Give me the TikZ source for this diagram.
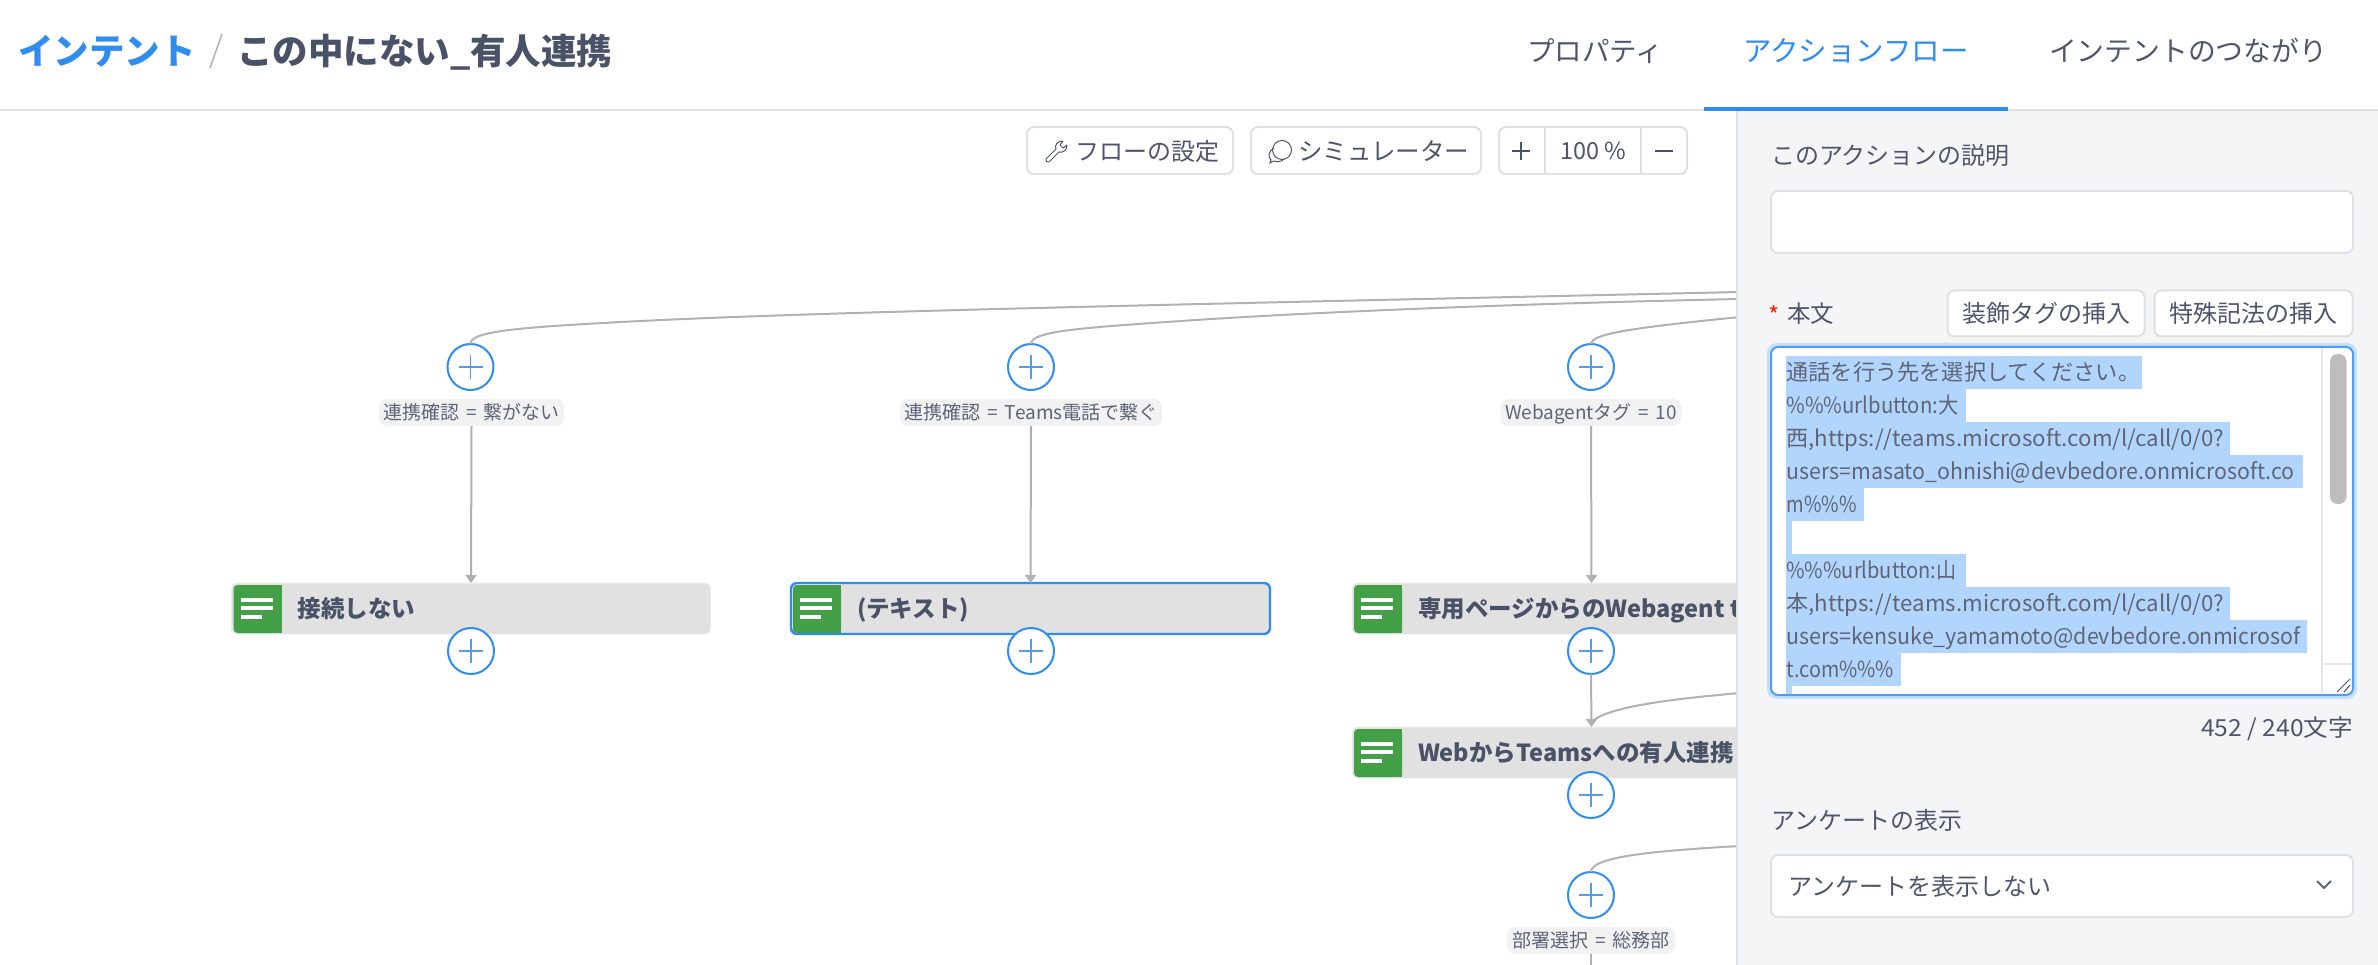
\documentclass[tikz,border=0pt]{standalone}
\usepackage{fontspec}
\usepackage{graphicx}
\setmainfont{Noto Sans CJK JP}
\usetikzlibrary{arrows.meta}
\definecolor{ink}{HTML}{4F566B}
\definecolor{inkd}{HTML}{4A5268}
\definecolor{inkl}{HTML}{5E6576}
\definecolor{blu}{HTML}{2F8CF0}
\definecolor{bluel}{HTML}{4E9DF5}
\definecolor{bdr}{HTML}{DFE0E4}
\definecolor{panelbg}{HTML}{F4F5F7}
\definecolor{edge}{HTML}{B0B0B5}
\definecolor{grn}{HTML}{43A047}
\definecolor{nodebg}{HTML}{E1E1E1}
\definecolor{sel}{HTML}{B2D5FE}
\definecolor{glow}{HTML}{C6E0FB}
\definecolor{chip}{HTML}{F2F2F3}
\tikzset{
  txt/.style={font=\fontsize{#1}{#1}\selectfont, text height={0.88*#1}, text depth={0.12*#1}, inner sep=0pt, outer sep=0pt, text=ink},
  btxt/.style={font=\fontsize{#1}{#1}\selectfont\bfseries, text height={0.88*#1}, text depth={0.12*#1}, inner sep=0pt, outer sep=0pt, text=inkd},
  linetxt/.style={txt=22.2, anchor=west, text=inkl},
  uibox/.style={draw=bdr, line width=2pt, rounded corners=7pt},
  plusc/.style={circle, draw=blu, line width=2pt, fill=white, minimum size=46pt, inner sep=0pt, outer sep=0pt},
  plusm/.style={draw=bluel, line width=1.6pt},
  chiplab/.style={fill=chip, rounded corners=8pt, minimum height=27pt, txt=19, text=inkl, outer sep=0pt},
  actbox/.style={fill=nodebg, rounded corners=6pt, minimum width=479pt, minimum height=51pt, inner sep=0pt, outer sep=0pt, anchor=north west},
  conn/.style={draw=edge, line width=2pt},
  arrowc/.style={conn, -{Triangle[length=8pt,width=11pt]}},
  selbar/.style={fill=sel},
}
\newcommand\plusnode[3]{%
  \node[plusc] (#1) at (#2,#3) {};
  \draw[plusm] ({#2-12},#3) -- ({#2+12},#3);
  \draw[plusm] (#2,{#3-12}) -- (#2,{#3+12});
}
\newcommand\actnode[5]{%
  \node[actbox, #5] (#1) at (#2,#3) {};
  \fill[grn, rounded corners=4pt] ({#2+2},{#3+2}) rectangle ({#2+50},{#3+50});
  \fill[grn] ({#2+20},{#3+2}) rectangle ({#2+50},{#3+50});
  \fill[white] ({#2+9},{#3+15}) rectangle ({#2+41},{#3+18.5});
  \fill[white] ({#2+9},{#3+23}) rectangle ({#2+41},{#3+26.5});
  \fill[white] ({#2+9},{#3+32}) rectangle ({#2+30},{#3+35.5});
  \node[btxt=23.5, anchor=west] (#1t) at ({#2+66},{#3+26}) {#4};
}
\newcommand\selline[3]{\fill[selbar] (1786,#1) rectangle (#2,{#1+33});
  \node[linetxt] at (1786.5,{#1+16}) {#3};}
\newcommand\fitw[2]{\resizebox{#1pt}{\height}{#2}}
\newcommand\eqs{\hspace{7pt}=\hspace{7pt}}
\begin{document}
\begin{tikzpicture}[x=1pt,y=-1pt]
\useasboundingbox (0,0) rectangle (2378,965);
\fill[white] (0,0) rectangle (2378,965);

% header
\node[btxt=35.5, anchor=west, text=blu] (crumb) at (18,51) {インテント};
\coordinate (slashA) at (210,68);
\coordinate (slashB) at (222,34);
\draw[draw=edge, line width=1.5pt] (slashA) -- (slashB);
\node[btxt=35.5, anchor=west] (title) at (237,51) {この中にない\_有人連携};
\node[txt=27.5] (tab1) at (1595,51) {プロパティ};
\node[txt=28.5, text=blu] (tab2) at (1856,51) {アクションフロー};
\node[txt=27.8] (tab3) at (2188,51) {インテントのつながり};
\draw[bdr, line width=2pt] (0,110) -- (2378,110);

% toolbar
\draw[uibox, fill=white] (1027,127) rectangle (1233,174);
\draw[uibox, fill=white] (1251,127) rectangle (1481,174);
\draw[uibox, fill=white] (1499,127) rectangle (1687,174);
\draw[bdr, line width=2pt] (1545,127) -- (1545,174);
\draw[bdr, line width=2pt] (1641,127) -- (1641,174);
\draw[ink, line width=1pt, line join=round] (1046,159) -- (1056,149) .. controls (1054,145) and (1058,141) .. (1063,141) -- (1060,145) -- (1063,148) -- (1067,145) .. controls (1067,150) and (1063,153) .. (1059,152) -- (1049,162) .. controls (1047,163) and (1045,161) .. (1046,159) -- cycle;
\draw[ink, line width=1pt] (1282,150) ellipse [x radius=9.5, y radius=9.5];
\draw[ink, line width=1pt] (1274,148) .. controls (1268,151) and (1268,158) .. (1271,160) -- (1270,163) -- (1274,161) .. controls (1277,162) and (1281,162) .. (1284,159);
\node[txt=24, anchor=west] (bt1) at (1075,151) {フローの設定};
\node[txt=24.5, anchor=west] (bt2) at (1298,151) {シミュレーター};
\draw[inkd, line width=2.2pt] (1512,151) -- (1530,151);
\draw[inkd, line width=2.2pt] (1521,142) -- (1521,160);
\node[txt=23.5] (zoomv) at (1593,151) {\fitw{66}{100 \%}};
\draw[inkd, line width=2.4pt] (1655,151) -- (1673,151);

% action nodes
\actnode{n1}{231.5}{583}{接続しない}{draw=white!93!black, line width=1pt}
\actnode{n2}{791}{583}{(テキスト)}{draw=blu, line width=2.4pt}
\actnode{n3}{1352}{583}{専用ページからのWebagent t}{draw=white!93!black, line width=1pt}
\actnode{n4}{1352}{727}{WebからTeamsへの有人連携}{draw=white!93!black, line width=1pt}

% free ends behind the panel
\coordinate (e1) at (1740,292);
\coordinate (e2) at (1740,299);
\coordinate (e3) at (1740,317);
\coordinate (e4) at (1740,693);
\coordinate (e5) at (1740,846);
\coordinate (e6) at (1591,965);

% add buttons
\plusnode{p1}{470.5}{367}
\plusnode{p2}{1031}{367}
\plusnode{p3}{1591}{367}
\plusnode{p4}{471}{651}
\plusnode{p5}{1031}{651}
\plusnode{p6}{1591}{651}
\plusnode{p7}{1591}{795}
\plusnode{p8}{1591}{895}

% condition labels
\node[chiplab, minimum width=185pt] (l1) at (471.5,412.5) {\fitw{176}{連携確認\eqs 繋がない}};
\node[chiplab, minimum width=262pt] (l2) at (1031,412.5) {\fitw{254}{連携確認\eqs Teams電話で繋ぐ}};
\node[chiplab, minimum width=181pt] (l3) at (1591,412.5) {\fitw{172}{Webagentタグ\eqs 10}};
\node[chiplab, minimum width=168pt] (l4) at (1591,940.5) {\fitw{158}{部署選択\eqs 総務部}};

% connectors
\draw[conn] (p1.north) .. controls (470.5,332) and (510,328) .. (612,322.5) .. controls (800,312) and (1200,304) .. (e1);
\draw[conn] (p2.north) .. controls (1031,331) and (1080,328) .. (1188,320.5) .. controls (1300,313) and (1500,304) .. (e2);
\draw[conn] (p3.north) .. controls (1591,334) and (1630,328) .. (e3);
\draw[arrowc] (l1.south) -- (n1.north);
\draw[arrowc] (l2.south) -- (n2.north);
\draw[arrowc] (l3.south) -- (n3.north);
\draw[arrowc] (p6.south) -- (n4.north);
\draw[conn] (n4.north) ++(0,-5) .. controls (1606,708) and (1660,700) .. (e4);
\draw[conn] (p8.north) .. controls (1591,857) and (1650,851) .. (e5);
\draw[conn] (l4.south) -- (e6);

% panel
\fill[panelbg] (1738,111) rectangle (2378,965);
\draw[bdr, line width=2.5pt] (1737,111) -- (1737,965);
\draw[blu, line width=4.5pt] (1704,109) -- (2008,109);
\node[txt=24, anchor=west] (desc) at (1771,155) {このアクションの説明};
\draw[uibox, fill=white] (1771,191) rectangle (2353,253);
\node[txt=23.5, anchor=west] (honbun) at (1787,314) {本文};
\node[txt=24, text=red!75!orange] (req) at (1774,315) {*};
\node[uibox, fill=white, minimum width=197pt, minimum height=46pt, txt=24] (ins1) at (2046,313.5) {装飾タグの挿入};
\node[uibox, fill=white, minimum width=198pt, minimum height=46pt, txt=24] (ins2) at (2253.5,313.5) {特殊記法の挿入};

% text area
\fill[glow, rounded corners=10pt] (1767,343) rectangle (2357,699);
\fill[white, rounded corners=7pt] (1771,347) rectangle (2353,695);
\selline{356}{2142}{通話を行う先を選択してください。}
\selline{389}{1966}{\fitw{172}{\%\%\%urlbutton:大}}
\selline{422}{2230}{\fitw{438}{西,https://teams.microsoft.com/l/call/0/0?}}
\selline{455}{2303}{\fitw{508}{users=masato\_ohnishi@devbedore.onmicrosoft.co}}
\selline{488}{1863.5}{\fitw{70}{m\%\%\%}}
\fill[selbar] (1786,521) rectangle (1792,554);
\selline{554}{1966}{\fitw{170}{\%\%\%urlbutton:山}}
\selline{587}{2230}{\fitw{438}{本,https://teams.microsoft.com/l/call/0/0?}}
\selline{620}{2307}{\fitw{514}{users=kensuke\_yamamoto@devbedore.onmicrosof}}
\selline{653}{1901}{\fitw{107.5}{t.com\%\%\%}}
\fill[selbar] (1786,686) rectangle (1792,694);
\draw[draw=black!9, line width=1.2pt] (2322,348) -- (2322,694);
\draw[draw=black!9, line width=1.2pt] (2322,664) -- (2352,664);
\fill[black!26, rounded corners=7.5pt] (2330,354) rectangle (2346.5,504);
\draw[ink, line width=1pt] (2337,692) -- (2350,679);
\draw[ink, line width=1pt] (2344,692) -- (2350,685);
\draw[bluel, line width=2pt, rounded corners=7pt] (1771,347) rectangle (2353,695);

\node[txt=23.5, anchor=east] (count) at (2353,728) {\fitw{152}{452 / 240文字}};
\node[txt=24, anchor=west] (survey) at (1771,820) {アンケートの表示};
\draw[uibox, fill=white] (1771,855) rectangle (2353,917);
\node[txt=24, anchor=west] (surveyv) at (1788,886) {アンケートを表示しない};
\draw[inkl, line width=2pt] (2317,881) -- (2324,888) -- (2331,881);
\end{tikzpicture}
\end{document}
